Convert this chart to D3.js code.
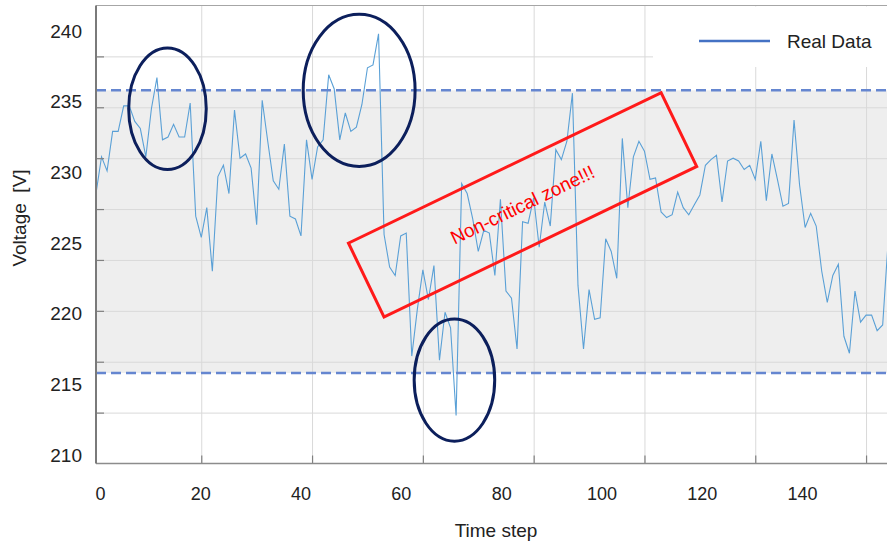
<!DOCTYPE html>
<html>
<head>
<meta charset="utf-8">
<script src="https://cdn.jsdelivr.net/npm/d3@7"></script>
<style>
  html, body { margin: 0; padding: 0; background: #ffffff; }
  svg { display: block; font-family: "Liberation Sans", Arial, sans-serif; }
</style>
</head>
<body>
<svg id="chart" width="887" height="547"></svg>
<script>
// ---------------- DATA ----------------
const seriesName = "Real Data";
// Voltage at time steps 1..144
const voltage = [
  228.5, 231.1, 230.1, 232.9, 232.9, 234.7, 234.7, 233.6, 233.1, 231.1,
  234.5, 236.7, 232.3, 232.5, 233.4, 232.5, 232.5, 234.9, 226.9, 225.4,
  227.5, 223.0, 229.7, 230.5, 228.5, 234.4, 231.0, 231.3, 230.3, 226.3,
  235.1, 232.2, 229.4, 228.8, 232.0, 226.9, 226.7, 225.5, 232.3, 229.5,
  231.8, 232.3, 236.9, 235.9, 232.3, 234.2, 232.9, 233.2, 234.8, 237.4,
  237.6, 239.8, 225.6, 223.3, 222.7, 225.5, 225.7, 217.0, 220.3, 223.1,
  221.0, 223.4, 216.7, 220.1, 219.0, 212.8, 229.2, 228.5, 226.7, 224.4,
  225.9, 225.7, 222.7, 228.1, 221.6, 221.1, 217.5, 226.5, 226.4, 228.2,
  224.7, 227.9, 226.2, 231.6, 230.9, 232.2, 235.6, 222.0, 217.5, 221.7,
  219.6, 219.7, 225.3, 224.4, 222.5, 232.4, 227.5, 231.1, 232.2, 231.5,
  229.5, 229.6, 227.2, 226.8, 227.0, 228.6, 227.5, 227.0, 227.7, 228.4,
  230.5, 230.9, 231.2, 227.9, 230.8, 231.0, 230.8, 230.2, 230.5, 229.5,
  232.2, 228.0, 231.3, 229.5, 227.6, 227.8, 233.7, 229.1, 226.1, 227.1,
  226.2, 223.0, 220.8, 222.7, 223.5, 218.4, 217.2, 221.6, 219.4, 219.9,
  219.9, 218.8, 219.2, 225.2
];
const timeSteps = voltage.map((v, i) => i + 1);
const upperLimit = 235.8;
const lowerLimit = 215.8;
const yTickLabels = [210, 215, 220, 225, 230, 235, 240];
const xTickLabels = [0, 20, 40, 60, 80, 100, 120, 140];
const xGridValues = [20, 40, 60, 80, 100, 120, 140];
const yGridCount = 9;
// annotations: [time step, voltage, radius in steps, radius in volts]
const circledEvents = [
  [13.9, 234.5, 7.0, 4.3],
  [48.5, 235.8, 10.1, 5.38],
  [65.7, 215.3, 7.27, 4.32]
];
const zoneNote = { t: 78.0, v: 227.7, text: "Non-critical zone!!!" };

// ---------------- LAYOUT ----------------
const svg = d3.select("#chart");
const W = 887, H = 547;
const pL = 96, pR = 887, pT = 5.5, pB = 463.5;

const x = d3.scaleLinear().domain([1, 143.78]).range([pL, pR]);
const y = d3.scaleLinear().domain([210, 240]).range([455, 31]);
const xLabel = d3.scaleLinear().domain([0, 140]).range([100, 802]);
const yGrid = d3.scaleLinear().domain([0, yGridCount]).range([pB, pT]);

svg.append("rect").attr("width", W).attr("height", H).attr("fill", "#ffffff");

const defs = svg.append("defs");
defs.append("clipPath").attr("id", "plotclip")
  .append("rect").attr("x", pL).attr("y", pT).attr("width", pR - pL).attr("height", pB - pT);

const plot = svg.append("g").attr("clip-path", "url(#plotclip)");

// band between limits
plot.append("rect")
  .attr("x", pL).attr("width", pR - pL)
  .attr("y", y(upperLimit)).attr("height", y(lowerLimit) - y(upperLimit))
  .attr("fill", "#eeeeee");

// grid lines
plot.append("g")
  .attr("transform", `translate(0,${pB})`)
  .call(d3.axisBottom(x).tickValues(xGridValues).tickSize(-(pB - pT)).tickFormat(""))
  .call(g => g.select(".domain").remove())
  .call(g => g.selectAll("line").attr("stroke", "#d9d9d9").attr("stroke-width", 1));

plot.append("g")
  .attr("transform", `translate(${pL},0)`)
  .call(d3.axisLeft(yGrid).ticks(yGridCount).tickSize(-(pR - pL)).tickFormat(""))
  .call(g => g.select(".domain").remove())
  .call(g => g.selectAll(".tick").filter(d => d === 0 || d === yGridCount).remove())
  .call(g => g.selectAll("line").attr("stroke", "#d9d9d9").attr("stroke-width", 1));

// data line
const line = d3.line().x((d, i) => x(timeSteps[i])).y(d => y(d));
plot.append("path")
  .datum(voltage)
  .attr("d", line)
  .attr("fill", "none")
  .attr("stroke", "#5aa0d6")
  .attr("stroke-width", 1.1)
  .attr("stroke-linejoin", "miter");

// limit lines
[upperLimit, lowerLimit].forEach(v => {
  plot.append("line")
    .attr("x1", pL).attr("x2", pR)
    .attr("y1", y(v)).attr("y2", y(v))
    .attr("stroke", "#6586d0")
    .attr("stroke-width", 2.5)
    .attr("stroke-dasharray", "10,5");
});

// frame & tick marks
svg.append("g")
  .attr("transform", `translate(0,${pB})`)
  .call(d3.axisTop(x).tickValues(xGridValues).tickSize(8).tickFormat(""))
  .call(g => g.select(".domain").remove())
  .call(g => g.selectAll("line").attr("stroke", "#808080").attr("stroke-width", 1.2));
svg.append("g")
  .attr("transform", `translate(${pL},0)`)
  .call(d3.axisRight(yGrid).ticks(yGridCount).tickSize(8).tickFormat(""))
  .call(g => g.select(".domain").remove())
  .call(g => g.selectAll(".tick").filter(d => d === 0 || d === yGridCount).remove())
  .call(g => g.selectAll("line").attr("stroke", "#808080").attr("stroke-width", 1.2));

svg.append("line").attr("x1", pL).attr("x2", pR).attr("y1", pB).attr("y2", pB)
  .attr("stroke", "#8c8c8c").attr("stroke-width", 1.5);
svg.append("line").attr("x1", pL).attr("x2", pR).attr("y1", pT).attr("y2", pT)
  .attr("stroke", "#a6a6a6").attr("stroke-width", 1);
svg.append("line").attr("x1", pL).attr("x2", pL).attr("y1", pT).attr("y2", pB)
  .attr("stroke", "#7a7a7a").attr("stroke-width", 2);

// tick labels
svg.append("g")
  .attr("transform", `translate(${pL},0)`)
  .call(d3.axisLeft(y).tickValues(yTickLabels).tickSize(0).tickPadding(14))
  .call(g => g.select(".domain").remove())
  .call(g => g.selectAll("text").attr("font-size", 19).attr("fill", "#222").attr("font-family", "Liberation Sans, Arial, sans-serif"));

svg.append("g")
  .attr("transform", `translate(0,${pB})`)
  .call(d3.axisBottom(xLabel).tickValues(xTickLabels).tickSize(0).tickPadding(24))
  .call(g => g.select(".domain").remove())
  .call(g => g.selectAll("text").attr("font-size", 18).attr("fill", "#222").attr("font-family", "Liberation Sans, Arial, sans-serif"));

// axis titles
svg.append("text")
  .attr("transform", "translate(26,218) rotate(-90)")
  .attr("text-anchor", "middle")
  .attr("font-size", 19).attr("fill", "#222")
  .style("white-space", "pre")
  .text("Voltage  [V]");
svg.append("text")
  .attr("x", 496).attr("y", 537)
  .attr("text-anchor", "middle")
  .attr("font-size", 19).attr("fill", "#222")
  .text("Time step");

// annotations: ellipses
const ppsX = x(2) - x(1);
const ppvY = y(0) - y(1);
svg.append("g").selectAll("ellipse")
  .data(circledEvents)
  .join("ellipse")
  .attr("cx", d => x(d[0]))
  .attr("cy", d => y(d[1]))
  .attr("rx", d => d[2] * ppsX)
  .attr("ry", d => d[3] * ppvY)
  .attr("fill", "none")
  .attr("stroke", "#0c1f5c")
  .attr("stroke-width", 3);

// rotated rectangle + text
const angle = -25.7;
const zone = svg.append("g")
  .attr("transform", `translate(${x(zoneNote.t)},${y(zoneNote.v)}) rotate(${angle})`);
zone.append("rect")
  .attr("x", -173.5).attr("y", -41).attr("width", 347).attr("height", 82)
  .attr("fill", "none").attr("stroke", "#ff1a1a").attr("stroke-width", 3);
zone.append("text")
  .attr("x", 0).attr("y", 6.5)
  .attr("text-anchor", "middle")
  .attr("font-size", 19).attr("fill", "#ff0000")
  .text(zoneNote.text);

// legend
svg.append("rect").attr("x", 653).attr("y", pT + 1).attr("width", pR - 653).attr("height", 67 - pT - 1)
  .attr("fill", "#ffffff");
svg.append("line").attr("x1", 699).attr("x2", 770).attr("y1", 41).attr("y2", 41)
  .attr("stroke", "#4472c4").attr("stroke-width", 2.5);
svg.append("text").attr("x", 787).attr("y", 48)
  .attr("font-size", 19).attr("fill", "#222").text(seriesName);
</script>
</body>
</html>
